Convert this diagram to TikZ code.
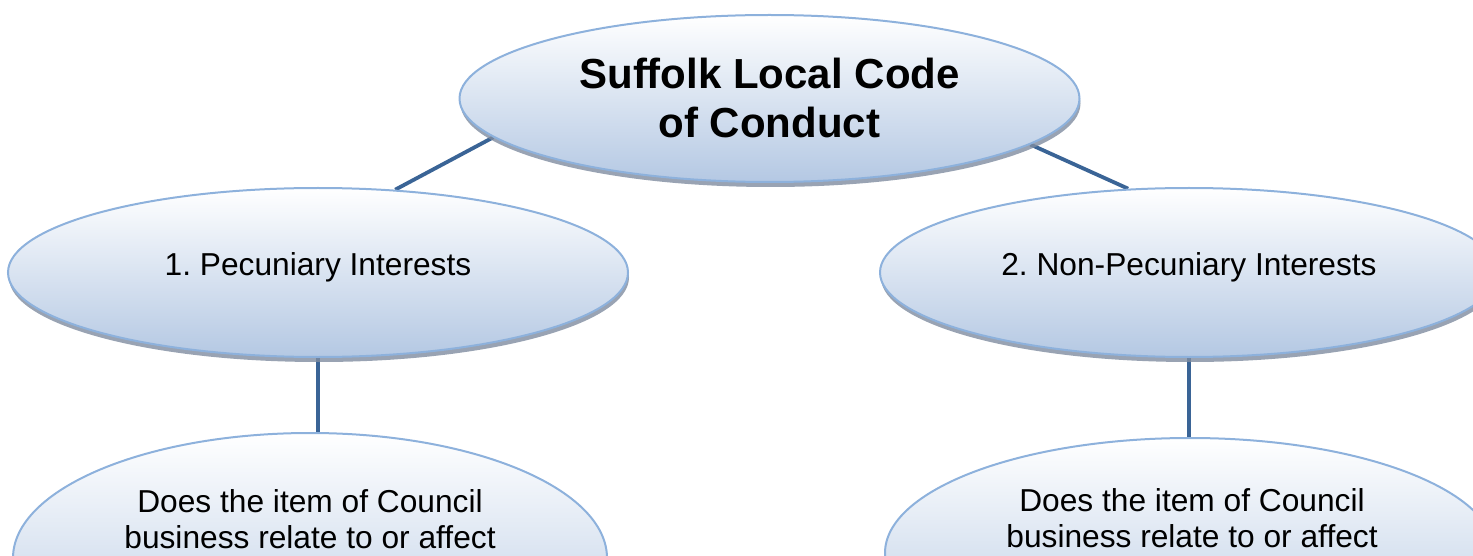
\documentclass[tikz,border=0pt]{standalone}
\usepackage{fontspec}
\setmainfont{Liberation Sans}
\usetikzlibrary{shapes.geometric,shadows,backgrounds}

\definecolor{rimblue}{HTML}{8DB1DC}
\definecolor{filltop}{HTML}{FFFFFF}
\definecolor{fillbot}{HTML}{B4C8E3}
\definecolor{linkblue}{HTML}{3A6496}
\definecolor{shadowgrey}{HTML}{7F8CA0}

\begin{document}
\frenchspacing
\begin{tikzpicture}[x=1pt,y=-1pt,
  bubble/.style={ellipse, draw=rimblue, line width=2pt,
    top color=filltop, bottom color=fillbot, inner sep=0pt,
    drop shadow={shadow xshift=1pt, shadow yshift=-5pt,
      fill=shadowgrey, opacity=0.8}},
  link/.style={draw=linkblue, line width=3.8pt},
  headtext/.style={inner sep=0pt, align=center,
    font=\fontsize{42}{49.5}\selectfont\bfseries\frenchspacing},
  bodytext/.style={inner sep=0pt, align=center,
    font=\fontsize{31.7}{36}\selectfont\frenchspacing}
]
\useasboundingbox (0,0) rectangle (1473,556);
\clip (0,0) rectangle (1473,556);

% ellipses of the hierarchy
\node[bubble, minimum width=620pt, minimum height=167pt] (root) at (769.5,98.5) {};
\node[bubble, minimum width=620pt, minimum height=169pt] (pec) at (318,272.5) {};
\node[bubble, minimum width=618pt, minimum height=169pt] (nonpec) at (1189,272.5) {};
\node[bubble, minimum width=594pt, minimum height=250pt] (pecq) at (310,558) {};
\node[bubble, minimum width=610pt, minimum height=230pt] (nonpecq) at (1190,553) {};

% texts
\node[headtext] (roott) at (769.5,98.2) {Suffolk Local Code\\of Conduct};
\node[bodytext] (pect) at (318,267.5) {1. Pecuniary Interests};
\node[bodytext] (nonpect) at (1189,267.5) {2. Non-Pecuniary Interests};
\node[bodytext] (pecqt) at (310,519) {Does the item of Council\\business relate to or affect};
\node[bodytext] (nonpecqt) at (1192,518) {Does the item of Council\\business relate to or affect};

% connectors behind the ellipses
\begin{scope}[on background layer]
  \draw[link] (root.188.5) -- (pec.47.6);
  \draw[link] (root.350) -- (nonpec.126.2);
  \draw[link] (pec.south) -- (pec.south |- pecq.north);
  \draw[link] (nonpec.south) -- (nonpec.south |- nonpecq.north);
\end{scope}
\end{tikzpicture}
\end{document}
